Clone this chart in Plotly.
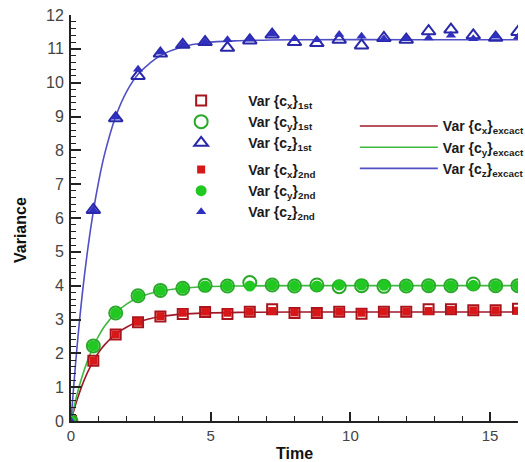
import plotly.graph_objects as go

# ---- data ----
t_pts = [0, 0.8, 1.6, 2.4, 3.2, 4.0, 4.8, 5.6, 6.4, 7.2, 8.0, 8.8, 9.6, 10.4, 11.2, 12.0, 12.8, 13.6, 14.4, 15.2, 16.0]

cx_1st = [0, 1.78, 2.56, 2.92, 3.09, 3.16, 3.22, 3.16, 3.23, 3.30, 3.19, 3.19, 3.23, 3.17, 3.23, 3.23, 3.30, 3.30, 3.27, 3.27, 3.32]
cy_1st = [0, 2.22, 3.19, 3.70, 3.86, 3.92, 4.01, 3.99, 4.09, 4.02, 3.99, 4.02, 3.97, 4.00, 3.98, 3.99, 4.00, 4.00, 4.05, 4.00, 4.00]
cz_1st = [0, 6.24, 8.95, 10.20, 10.86, 11.12, 11.20, 11.03, 11.25, 11.42, 11.20, 11.17, 11.27, 11.10, 11.32, 11.27, 11.52, 11.57, 11.40, 11.33, 11.50]

cx_2nd = [0, 1.78, 2.56, 2.93, 3.10, 3.20, 3.23, 3.20, 3.23, 3.25, 3.21, 3.20, 3.23, 3.20, 3.23, 3.23, 3.25, 3.28, 3.27, 3.27, 3.26]
cy_2nd = [0, 2.22, 3.19, 3.70, 3.86, 3.92, 3.99, 3.99, 3.99, 4.02, 3.99, 3.99, 4.02, 4.02, 4.01, 3.99, 4.00, 4.00, 4.01, 4.00, 4.00]
cz_2nd = [0, 6.24, 8.98, 10.40, 10.90, 11.12, 11.20, 11.27, 11.28, 11.44, 11.30, 11.27, 11.42, 11.37, 11.30, 11.30, 11.32, 11.40, 11.30, 11.37, 11.35]

t_exact = [0, 0.2, 0.4, 0.6, 0.8, 1.0, 1.2, 1.6, 2.0, 2.4, 2.8, 3.2, 4.0, 4.8, 6.0, 8.0, 12.0, 16.0]
cx_exact = [0, 0.58, 1.06, 1.45, 1.77, 2.04, 2.25, 2.57, 2.78, 2.93, 3.02, 3.09, 3.16, 3.19, 3.21, 3.22, 3.22, 3.22]
cy_exact = [0, 0.73, 1.32, 1.80, 2.20, 2.53, 2.80, 3.19, 3.46, 3.64, 3.76, 3.84, 3.93, 3.97, 3.99, 4.00, 4.00, 4.00]
cz_exact = [0, 2.04, 3.72, 5.08, 6.20, 7.12, 7.88, 9.00, 9.75, 10.25, 10.56, 10.80, 11.06, 11.18, 11.24, 11.27, 11.27, 11.27]

x_ticks = [0, 5, 10, 15]
y_ticks = list(range(0, 13))

RED_D, RED = "#a8141c", "#d81818"
GRN_D, GRN = "#2aa82a", "#22c822"
BLU_D, BLU = "#2828a8", "#3030c0"
LRED, LGRN, LBLU = "#a01828", "#40b840", "#5050c4"

FONT = "Liberation Sans, Arial, sans-serif"

fig = go.Figure()

# exact lines
for i, (name, ys, col) in enumerate([("Var {c<sub>x</sub>}<sub>excact</sub>", cx_exact, LRED),
                                     ("Var {c<sub>y</sub>}<sub>excact</sub>", cy_exact, LGRN),
                                     ("Var {c<sub>z</sub>}<sub>excact</sub>", cz_exact, LBLU)]):
    fig.add_trace(go.Scatter(x=t_exact, y=ys, mode="lines", name=name,
                             line=dict(color=col, width=1.6, shape="spline"),
                             legend="legend2", legendgroup="e%d" % i))

marker_series = [
    ("Var {c<sub>x</sub>}<sub>1st</sub>", cx_1st, dict(symbol="square-open", size=10, color=RED_D, line=dict(width=2, color=RED_D)), "legend"),
    ("Var {c<sub>y</sub>}<sub>1st</sub>", cy_1st, dict(symbol="circle-open", size=13, color=GRN_D, line=dict(width=2, color=GRN_D)), "legend"),
    ("Var {c<sub>z</sub>}<sub>1st</sub>", cz_1st, dict(symbol="triangle-up-open", size=12, color=BLU_D, line=dict(width=2, color=BLU_D)), "legend"),
    ("Var {c<sub>x</sub>}<sub>2nd</sub>", cx_2nd, dict(symbol="square", size=8, color=RED, line=dict(width=0)), "legend3"),
    ("Var {c<sub>y</sub>}<sub>2nd</sub>", cy_2nd, dict(symbol="circle", size=11, color=GRN, line=dict(width=0)), "legend3"),
    ("Var {c<sub>z</sub>}<sub>2nd</sub>", cz_2nd, dict(symbol="triangle-up", size=9, color=BLU, line=dict(width=0)), "legend3"),
]
for i, (name, ys, mk, lg) in enumerate(marker_series):
    fig.add_trace(go.Scatter(x=t_pts, y=ys, mode="markers", name=name, marker=mk,
                             legend=lg, legendgroup="m%d" % i))

LEG_FONT = dict(family=FONT, size=14, color="#1a1a1a", weight="bold")

fig.update_layout(
    width=525, height=462,
    margin=dict(l=71, r=7, t=15, b=41, autoexpand=False),
    paper_bgcolor="white", plot_bgcolor="white",
    font=dict(family=FONT, size=14, color="#333333"),
    showlegend=True,
    legend=dict(x=0.186, y=0.828, xanchor="left", yanchor="top", bgcolor="rgba(0,0,0,0)",
                font=LEG_FONT, itemwidth=84, traceorder="normal", tracegroupgap=1),
    legend3=dict(x=0.186, y=0.658, xanchor="left", yanchor="top", bgcolor="rgba(0,0,0,0)",
                 font=LEG_FONT, itemwidth=84, traceorder="normal", tracegroupgap=1),
    legend2=dict(x=0.635, y=0.765, xanchor="left", yanchor="top", bgcolor="rgba(0,0,0,0)",
                 font=LEG_FONT, itemwidth=78, traceorder="normal", tracegroupgap=3),
    xaxis=dict(range=[0, 16], tickvals=x_ticks, showgrid=False, zeroline=False,
               showline=True, linecolor="#222222", linewidth=2,
               ticks="inside", ticklen=9, tickwidth=2, tickcolor="#222222",
               minor=dict(dtick=1, ticks="inside", ticklen=5, tickwidth=1, tickcolor="#222222"),
               tickfont=dict(size=15, color="#444444"),
               title=dict(text="<b>Time</b>", font=dict(size=16, color="#111111"), standoff=6)),
    yaxis=dict(range=[0, 12], tickvals=y_ticks, showgrid=False, zeroline=False,
               showline=True, linecolor="#222222", linewidth=2,
               ticks="inside", ticklen=10, tickwidth=2, tickcolor="#222222",
               minor=dict(dtick=0.2, ticks="inside", ticklen=5, tickwidth=1, tickcolor="#222222"),
               tickfont=dict(size=16, color="#444444"), ticklabelstandoff=2),
    annotations=[dict(text="<b>Variance</b>", xref="paper", yref="paper", x=0, y=0.5,
                      xanchor="center", yanchor="middle", xshift=-51, yshift=-12,
                      textangle=-90, showarrow=False,
                      font=dict(family=FONT, size=16, color="#111111"))],
)

fig.write_html("out.html")
